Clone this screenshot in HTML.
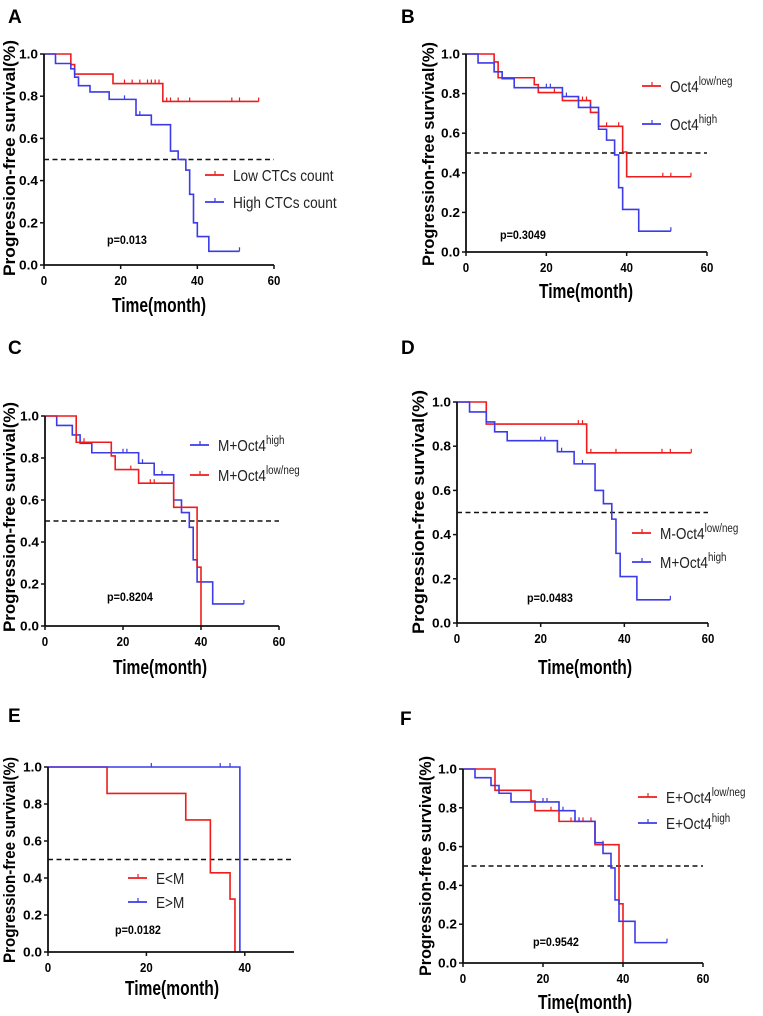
<!DOCTYPE html>
<html><head><meta charset="utf-8">
<style>
html,body{margin:0;padding:0;background:#fff;}
svg{display:block;font-family:"Liberation Sans",Arial,sans-serif;}
</style></head>
<body>
<svg id="fig" width="763" height="1016" viewBox="0 0 763 1016" xmlns="http://www.w3.org/2000/svg"></svg>
<script>
// ---- Data (step change times and survival values) ----
const yTicks = [0, 0.2, 0.4, 0.6, 0.8, 1.0];
const xTicks60 = [0, 20, 40, 60];
const xTicks50 = [0, 20, 40];

const aRedT = [0, 7, 8, 18, 31, 56];
const aRedS = [1, 0.95, 0.905, 0.86, 0.775, 0.775];
const aRedCT = [21, 23, 25, 27, 28, 29, 30, 32, 33, 35, 38, 49, 51, 56];
const aBlueT = [0, 3, 7, 8, 9, 12, 17, 24, 28, 33, 35, 37, 38, 39, 40, 43, 51];
const aBlueS = [1, 0.955, 0.93, 0.89, 0.85, 0.82, 0.785, 0.71, 0.665, 0.54, 0.5, 0.45, 0.335, 0.2, 0.135, 0.065, 0.065];
const aBlueCT = [21, 25, 51];

const bRedT = [0, 7, 8, 17, 18, 24, 31, 33, 39, 40, 56];
const bRedS = [1, 0.96, 0.88, 0.845, 0.805, 0.765, 0.705, 0.635, 0.505, 0.38, 0.38];
const bRedCT = [22, 28, 29, 30, 35, 38, 49, 51, 56];
const bBlueT = [0, 3, 7, 9, 12, 24, 28, 33, 35, 37, 38, 39, 43, 51];
const bBlueS = [1, 0.955, 0.91, 0.875, 0.83, 0.785, 0.73, 0.62, 0.565, 0.49, 0.325, 0.215, 0.105, 0.105];
const bBlueCT = [20, 21, 25, 31, 51];

const cBlueT = [0, 3, 7, 9, 12, 24, 28, 33, 35, 37, 38, 39, 43, 51];
const cBlueS = [1, 0.955, 0.91, 0.87, 0.825, 0.775, 0.72, 0.6, 0.54, 0.47, 0.315, 0.21, 0.105, 0.105];
const cBlueCT = [20, 21, 25, 30, 51];
const cRedT = [0, 8, 17, 18, 24, 33, 39, 40];
const cRedS = [1, 0.875, 0.81, 0.745, 0.68, 0.565, 0.28, 0];
const cRedCT = [10, 22, 27, 28];

const dRedT = [0, 7, 31, 56];
const dRedS = [1, 0.9, 0.77, 0.77];
const dRedCT = [29, 30, 32, 38, 49, 51, 56];
const dBlueT = [0, 3, 7, 9, 12, 24, 28, 33, 35, 37, 38, 39, 43, 51];
const dBlueS = [1, 0.955, 0.91, 0.865, 0.825, 0.775, 0.72, 0.6, 0.54, 0.47, 0.315, 0.21, 0.105, 0.105];
const dBlueCT = [20, 21, 25, 30, 51];

const eRedT = [0, 12, 28, 33, 37, 38];
const eRedS = [1, 0.857, 0.714, 0.428, 0.286, 0];
const eRedCT = [];
const eBlueT = [0, 39];
const eBlueS = [1, 0];
const eBlueCT = [21, 35, 37];

const fRedT = [0, 8, 17, 18, 24, 33, 39, 40];
const fRedS = [1, 0.89, 0.835, 0.785, 0.73, 0.61, 0.305, 0];
const fRedCT = [22, 27, 29, 30, 32, 35];
const fBlueT = [0, 3, 7, 9, 12, 24, 28, 33, 35, 37, 38, 39, 43, 51];
const fBlueS = [1, 0.955, 0.915, 0.875, 0.83, 0.785, 0.73, 0.62, 0.565, 0.49, 0.325, 0.215, 0.105, 0.105];
const fBlueCT = [20, 21, 25, 28, 29, 51];

const RED = "#ee1c1c", BLUE = "#3b3bea";
const NS = "http://www.w3.org/2000/svg";
const svg = document.getElementById("fig");
const condense = [];

function mk(tag, attrs, parent, text) {
  const e = document.createElementNS(NS, tag);
  for (const k in attrs) e.setAttribute(k, attrs[k]);
  if (text !== undefined) e.textContent = text;
  (parent || svg).appendChild(e);
  return e;
}

function stepValue(T, S, t) {
  let v = S[0];
  for (let i = 0; i < T.length; i++) if (T[i] <= t) v = S[i];
  return v;
}

function panel(p) {
  const g = mk("g", {});
  
  
  const sx = v => p.x0 + (v - 0) / p.xmax * (p.x1 - p.x0);
  const sy = v => p.y0 - v * (p.y0 - p.y1);

  const lab = mk("text", {x: p.lx, y: p.ly, "font-size": 19, "font-weight": "bold"}, g, p.id);
  
  

  const dl = mk("line", {x1: sx(0), x2: sx(p.xmax), y1: sy(0.5), y2: sy(0.5), stroke: "#111", "stroke-width": 1.6, "stroke-dasharray": "5,3.5"}, g);
  
  

  p.series.forEach(s => {
    let d = "M" + sx(s.T[0]) + "," + sy(s.S[0]);
    for (let i = 1; i < s.T.length; i++) {
      d += " H" + sx(s.T[i]) + " V" + sy(s.S[i]);
    }
    const path = mk("path", {d: d, fill: "none", stroke: s.color, "stroke-width": 1.6}, g);
    
    
    s.C.forEach(t => {
      const v = stepValue(s.T, s.S, t);
      const c = mk("line", {x1: sx(t), x2: sx(t), y1: sy(v), y2: sy(v) - 4, stroke: s.color, "stroke-width": 1.2}, g);
      
      
    });
  });

  const ax = mk("path", {d: "M" + p.x0 + "," + p.y1 + " V" + p.y0 + " H" + sx(p.xmax), fill: "none", stroke: "#111", "stroke-width": 1.8}, g);
  
  
  yTicks.forEach(v => {
    mk("line", {x1: p.x0 - 4, x2: p.x0, y1: sy(v), y2: sy(v), stroke: "#111", "stroke-width": 1.5}, g);
    const t = mk("text", {x: p.x0 - 6, y: sy(v) + 4.5, "font-size": 13, "font-weight": "bold", "text-anchor": "end", textLength: 19, lengthAdjust: "spacingAndGlyphs"}, g, v.toFixed(1));
    
    
  });
  p.xt.forEach(v => {
    mk("line", {x1: sx(v), x2: sx(v), y1: p.y0, y2: p.y0 + 4, stroke: "#111", "stroke-width": 1.5}, g);
    const t = mk("text", {x: sx(v), y: p.y0 + 20, "font-size": 13, "font-weight": "bold", "text-anchor": "middle"}, g, String(v));
    
    
    condense.push([t, 0.88]);
  });

  const yt = mk("text", {x: 0, y: 0, "font-size": 16.5, "font-weight": "bold", "text-anchor": "middle", transform: "translate(" + (p.ytx + 1) + "," + p.ytc + ") rotate(-90)", textLength: p.ytl, lengthAdjust: "spacingAndGlyphs"}, g, "Progression-free survival(%)");
  
  
  const xt = mk("text", {x: p.xtx, y: p.xty + 1, "font-size": 20, "font-weight": "bold", "text-anchor": "middle", textLength: 94, lengthAdjust: "spacingAndGlyphs"}, g, "Time(month)");
  
  

  const pv = mk("text", {x: p.px, y: p.py, "font-size": 12, "font-weight": "bold"}, g, p.pval);
  
  
  condense.push([pv, 0.9]);

  p.legend.forEach(L => {
    const lg = mk("g", {}, g);
    
    
    mk("line", {x1: L.x, x2: L.x + 19, y1: L.y, y2: L.y, stroke: L.color, "stroke-width": 1.8}, lg);
    mk("line", {x1: L.x + 10, x2: L.x + 10, y1: L.y, y2: L.y - 4, stroke: L.color, "stroke-width": 1.2}, lg);
    const t = mk("text", {x: L.x + 28, y: L.y + 6, "font-size": 16, fill: "#222"}, lg, L.text);
    if (L.sup) mk("tspan", {dy: -7, "font-size": 11.5}, t, L.sup);
    condense.push([t, 0.85]);
  });
}

panel({id: "A", lx: 8, ly: 23, x0: 44, x1: 274, xmax: 60, y1: 54, y0: 265, xt: xTicks60,
  ytx: 14, ytc: 158, ytl: 236, xtx: 159, xty: 311, px: 107, py: 244, pval: "p=0.013",
  series: [{name: "low-ctc", T: aRedT, S: aRedS, C: aRedCT, color: RED}, {name: "high-ctc", T: aBlueT, S: aBlueS, C: aBlueCT, color: BLUE}],
  legend: [{x: 205, y: 175, color: RED, text: "Low CTCs count"}, {x: 205, y: 202, color: BLUE, text: "High CTCs count"}]});

panel({id: "B", lx: 401, ly: 23, x0: 466, x1: 707, xmax: 60, y1: 54, y0: 252, xt: xTicks60,
  ytx: 433, ytc: 154, ytl: 224, xtx: 586, xty: 297, px: 500, py: 239, pval: "p=0.3049",
  series: [{name: "oct4-low", T: bRedT, S: bRedS, C: bRedCT, color: RED}, {name: "oct4-high", T: bBlueT, S: bBlueS, C: bBlueCT, color: BLUE}],
  legend: [{x: 642, y: 86, color: RED, text: "Oct4", sup: "low/neg"}, {x: 642, y: 124, color: BLUE, text: "Oct4", sup: "high"}]});

panel({id: "C", lx: 8, ly: 354, x0: 45, x1: 279, xmax: 60, y1: 416, y0: 626, xt: xTicks60,
  ytx: 14, ytc: 517, ytl: 230, xtx: 160, xty: 673, px: 107, py: 601, pval: "p=0.8204",
  series: [{name: "m-oct4-high", T: cBlueT, S: cBlueS, C: cBlueCT, color: BLUE}, {name: "m-oct4-low", T: cRedT, S: cRedS, C: cRedCT, color: RED}],
  legend: [{x: 190, y: 445, color: BLUE, text: "M+Oct4", sup: "high"}, {x: 190, y: 475, color: RED, text: "M+Oct4", sup: "low/neg"}]});

panel({id: "D", lx: 401, ly: 354, x0: 457, x1: 708, xmax: 60, y1: 402, y0: 623, xt: xTicks60,
  ytx: 423, ytc: 512, ytl: 244, xtx: 585, xty: 673, px: 527, py: 602, pval: "p=0.0483",
  series: [{name: "m-oct4-low", T: dRedT, S: dRedS, C: dRedCT, color: RED}, {name: "m-oct4-high", T: dBlueT, S: dBlueS, C: dBlueCT, color: BLUE}],
  legend: [{x: 632, y: 533, color: RED, text: "M-Oct4", sup: "low/neg"}, {x: 632, y: 562, color: BLUE, text: "M+Oct4", sup: "high"}]});

panel({id: "E", lx: 8, ly: 722, x0: 48, x1: 294, xmax: 50, y1: 767, y0: 952, xt: xTicks50,
  ytx: 14, ytc: 860, ytl: 206, xtx: 172, xty: 994, px: 115, py: 934, pval: "p=0.0182",
  series: [{name: "e-less-m", T: eRedT, S: eRedS, C: eRedCT, color: RED}, {name: "e-greater-m", T: eBlueT, S: eBlueS, C: eBlueCT, color: BLUE}],
  legend: [{x: 128, y: 878, color: RED, text: "E<M"}, {x: 128, y: 902, color: BLUE, text: "E>M"}]});

panel({id: "F", lx: 400, ly: 725, x0: 463, x1: 703, xmax: 60, y1: 769, y0: 963, xt: xTicks60,
  ytx: 430, ytc: 866, ytl: 220, xtx: 585, xty: 1008, px: 533, py: 946, pval: "p=0.9542",
  series: [{name: "e-oct4-low", T: fRedT, S: fRedS, C: fRedCT, color: RED}, {name: "e-oct4-high", T: fBlueT, S: fBlueS, C: fBlueCT, color: BLUE}],
  legend: [{x: 638, y: 797, color: RED, text: "E+Oct4", sup: "low/neg"}, {x: 638, y: 823, color: BLUE, text: "E+Oct4", sup: "high"}]});

condense.forEach(([t, f]) => {
  const len = t.getComputedTextLength();
  if (len > 0) {
    t.setAttribute("textLength", (len * f).toFixed(1));
    t.setAttribute("lengthAdjust", "spacingAndGlyphs");
  }
});
</script>
</body></html>
